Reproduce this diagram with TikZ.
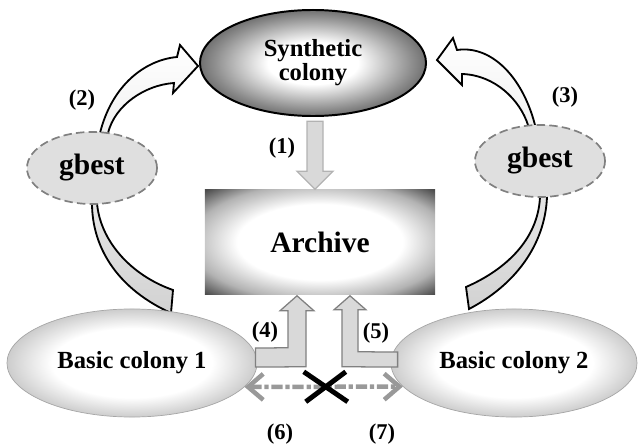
\documentclass[tikz,border=0pt]{standalone}
\usepackage{fontspec}
\setmainfont{Liberation Serif}
\usetikzlibrary{shapes.geometric,arrows.meta,calc,positioning}

\pgfdeclareradialshading{synthshade}{\pgfpoint{0bp}{0bp}}{color(0bp)=(white); color(10bp)=(white); color(22bp)=(black!45); color(32bp)=(black!80); color(50bp)=(black!85)}
\pgfdeclareradialshading{archshade}{\pgfpoint{0bp}{0bp}}{color(0bp)=(white); color(18bp)=(white); color(28bp)=(black!30); color(35bp)=(black!70); color(50bp)=(black!80)}
\pgfdeclareradialshading{basicshade}{\pgfpoint{0bp}{0bp}}{color(0bp)=(white); color(16bp)=(white); color(26bp)=(black!22); color(33bp)=(black!50); color(50bp)=(black!55)}

\begin{document}
\begin{tikzpicture}[x=0.025cm,y=-0.025cm,
    colony/.style={ellipse,inner sep=0pt,align=center,font=\fontsize{17.5}{17}\selectfont\bfseries},
    bestnode/.style={ellipse,inner sep=0pt,minimum width=3.25cm,minimum height=1.8cm,fill=gray!25,draw=gray,line width=1.2pt,dash pattern=on 6pt off 3pt,font=\fontsize{21}{21}\selectfont\bfseries},
    curvedarrow/.style={draw=black,line width=1.3pt,line join=miter,top color=white,bottom color=gray!35},
    blockarrow/.style={fill=gray!30,draw=gray,line width=0.9pt},
    lbl/.style={font=\fontsize{16}{16}\selectfont\bfseries},
    nolink/.style={draw=gray!80,line width=3.2pt,dash pattern=on 8pt off 2pt on 3pt off 2pt,
      {Straight Barb[length=3.8mm,width=6.5mm]}-{Straight Barb[length=3.8mm,width=6.5mm]}}]
  \useasboundingbox (0,0) rectangle (638,446);
  % curved arrows from the basic colonies, gbest goes over them
  \draw[curvedarrow] (198,66) -- (173,93) -- (174,83)
    .. controls (145,85) and (115,105) .. (108,133)
    .. controls (102,160) and (97,185) .. (97,203)
    .. controls (100,240) and (130,275) .. (173,290)
    -- (171,313)
    .. controls (120,290) and (92,250) .. (92,203)
    .. controls (92,180) and (95,155) .. (100,133)
    .. controls (112,85) and (145,60) .. (177,57)
    -- (180,45) -- cycle;
  \draw[curvedarrow] (437,60) -- (453,38) -- (457,50)
    .. controls (490,45) and (522,75) .. (535,125)
    .. controls (541,150) and (547,175) .. (547,197)
    .. controls (545,245) and (515,285) .. (469,309)
    -- (466,287)
    .. controls (505,270) and (538,240) .. (540,197)
    .. controls (540,175) and (535,150) .. (528,125)
    .. controls (520,100) and (495,75) .. (462,74)
    -- (462,85) -- cycle;
  \node (gbestL) [bestnode] at (92,168) {gbest};
  \node (gbestR) [bestnode] at (540,161) {gbest};
  % colonies and archive
  \node (synth) [colony,shade,shading=synthshade,draw=black,line width=1.4pt,
    minimum width=5.65cm,minimum height=2.65cm] at (313,63) {Synthetic\\colony};
  \node (archive) [rectangle,shade,shading=archshade,minimum width=5.75cm,minimum height=2.625cm,
    font=\fontsize{21}{21}\selectfont\bfseries] at (320,242) {Archive};
  \node (basicA) [colony,shade,shading=basicshade,draw=gray!70,line width=0.5pt,
    minimum width=6.25cm,minimum height=2.7cm] at (132,363) {Basic colony 1};
  \node (basicB) [colony,shade,shading=basicshade,draw=gray!70,line width=0.5pt,
    minimum width=6.15cm,minimum height=2.7cm] at (514,363) {Basic colony 2};
  % (1) synthetic colony into archive
  \coordinate (tip1) at ($(archive.north)+(-5,0)$);
  \draw[blockarrow,draw=gray!60] (tip1) -- +(18,-18) -- +(8,-18) -- +(8,-68)
    -- +(-8,-68) -- +(-8,-18) -- +(-18,-18) -- cycle;
  % (4) and (5) basic colonies into archive
  \coordinate (tip4) at ($(archive.south)+(-23,1)$);
  \draw[blockarrow] (tip4) -- +(17,15) -- +(9,15) -- +(9,71)
    -- ($(basicA.east)+(-2,4)$) -- ($(basicA.east)+(-2,-15)$)
    -- ($(tip4)+(-9,52)$) -- ($(tip4)+(-9,15)$) -- ($(tip4)+(-17,15)$) -- cycle;
  \coordinate (tip5) at ($(archive.south)+(30,1)$);
  \draw[blockarrow] (tip5) -- +(-16,14) -- +(-8,14) -- +(-8,71)
    -- ($(basicB.west)+(7,4)$) -- ($(basicB.west)+(7,-11)$)
    -- ($(tip5)+(8,56)$) -- ($(tip5)+(8,14)$) -- ($(tip5)+(16,14)$) -- cycle;
  % (6)/(7) no exchange between basic colonies
  \draw[nolink] (basicA.-12) -- (basicB.192);
  \coordinate (cross) at ($(basicA.-12)!0.5!(basicB.192)+(2,0)$);
  \draw[line width=3.5pt] (cross) +(-22,-15) -- +(22,15)
    (cross) +(20,-15) -- +(-20,15);
  % labels
  \node[lbl] (n1) at (282,148) {(1)};
  \node[lbl] (n2) at (82,100) {(2)};
  \node[lbl] (n3) at (565,97) {(3)};
  \node[lbl] (n4) at (265,332) {(4)};
  \node[lbl] (n5) at (376,333) {(5)};
  \node[lbl] (n6) at (280,434) {(6)};
  \node[lbl] (n7) at (382,434) {(7)};
\end{tikzpicture}
\end{document}
